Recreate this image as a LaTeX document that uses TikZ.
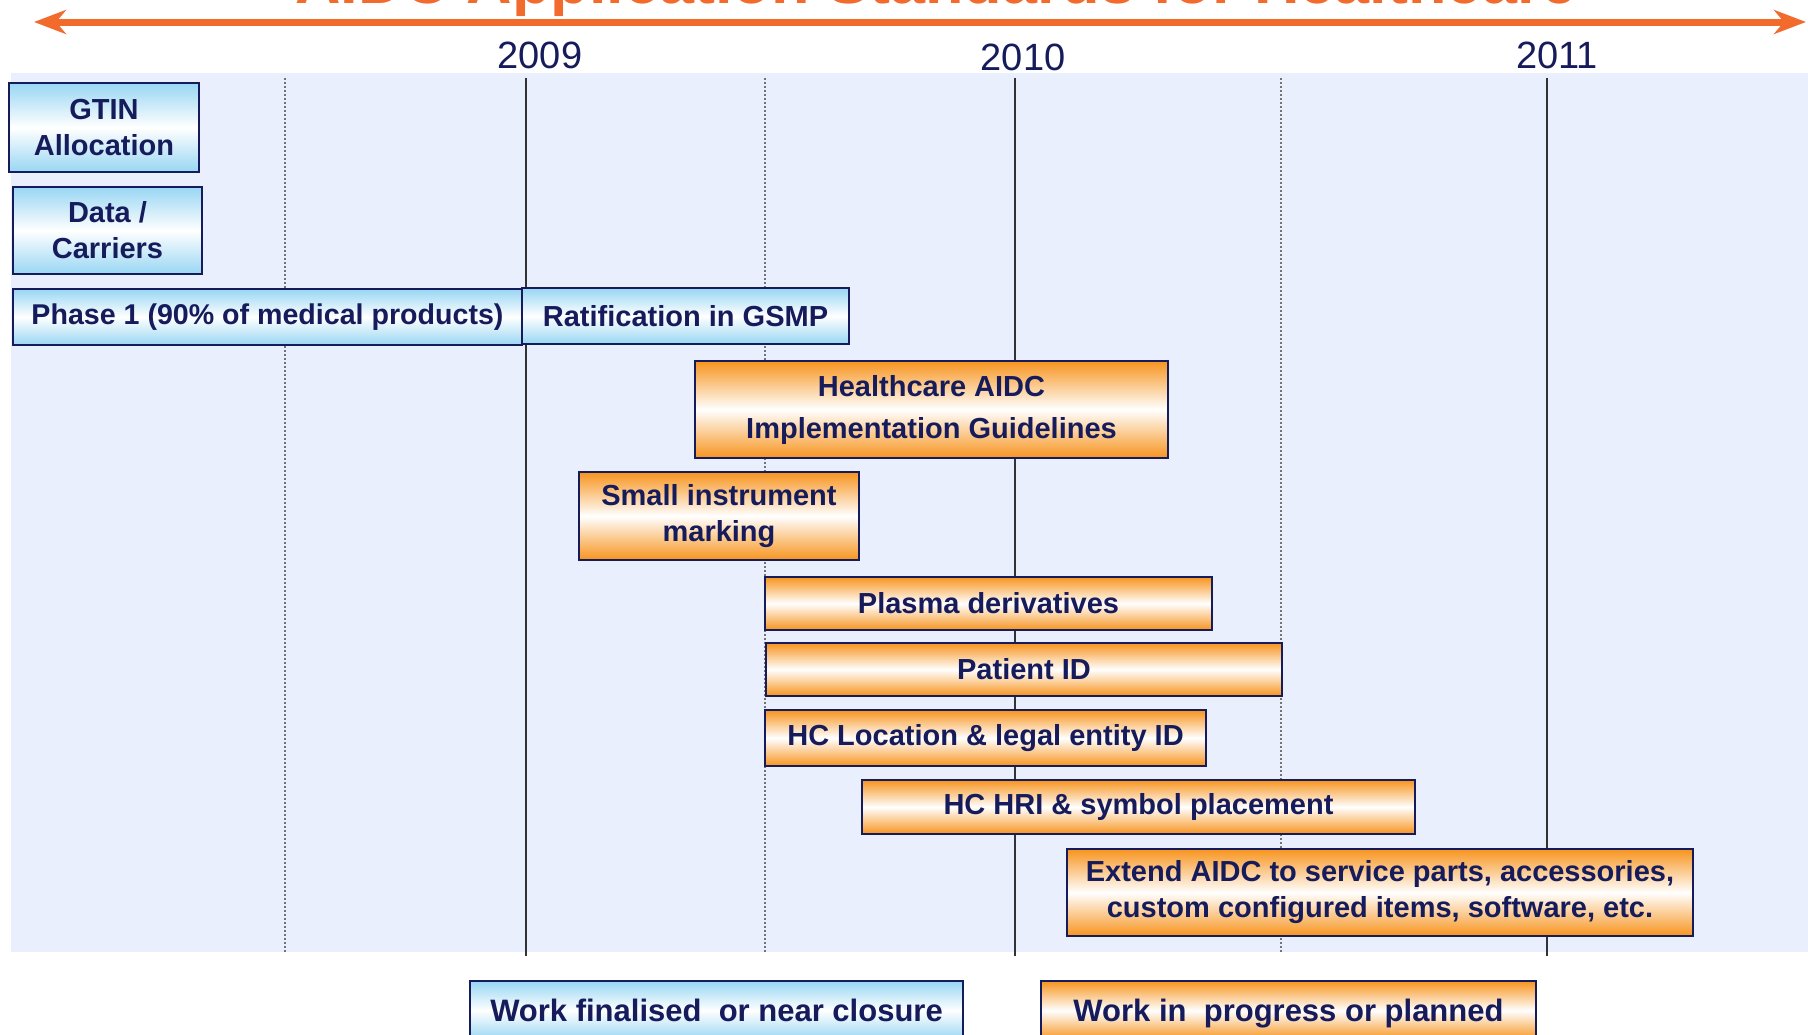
\documentclass[tikz,border=0pt]{standalone}
\usepackage{fontspec}
\setmainfont{Liberation Sans}
\usepackage[HTML]{xcolor}
\usepackage{tikz}
\usetikzlibrary{positioning, arrows, arrows.meta}

\definecolor{navy}{HTML}{161B5C}
\definecolor{titleorange}{HTML}{F26B2D}
\definecolor{boxorange}{HTML}{F7941E}
\definecolor{boxblue}{HTML}{98D6F3}
\definecolor{bgblue}{HTML}{E9EFFC}

\tikzset{
  done/.style={draw=navy, line width=1pt, top color=boxblue, bottom color=boxblue,
    middle color=white, text=navy, align=center, inner sep=0pt,
    font=\bfseries\fontsize{14.5}{18}\selectfont},
  todo/.style={done, top color=boxorange, bottom color=boxorange, middle color=white},
  legend/.style={text height=13pt, text depth=2.5pt, minimum height=29.5pt,
    font=\bfseries\fontsize{15.5}{18}\selectfont},
  yearline/.style={line width=1pt, black!80},
  halfline/.style={line width=1pt, densely dotted, black!55},
  year/.style={text=navy, font=\fontsize{19}{22}\selectfont}
}

\begin{document}
\begin{tikzpicture}[x=0.5pt, y=-0.5pt]
\useasboundingbox (0,0) rectangle (1808,1034);
% background and time axis
\fill[bgblue] (11,73) rectangle (1808,952);
\foreach \x in {285,765,1281}
  \draw[halfline] (\x,78) -- (\x,952);
\foreach \x in {526,1015,1547}
  \draw[yearline] (\x,78) -- (\x,956);

\node[anchor=base, text=titleorange, font=\bfseries\fontsize{31.5}{36}\selectfont] (title)
  at (936,3) {AIDC Application Standards for Healthcare};
\coordinate (arrL) at (34,22);
\coordinate (arrR) at (1806,22);
\draw[titleorange, line width=3.5pt,
  {Stealth[length=16pt, width=12pt, inset=5pt]}-{Stealth[length=16pt, width=12pt, inset=5pt]}]
  (arrL) -- (arrR);

\node[year] (y2009) at (540,55) {2009};
\node[year] (y2010) at (1023,57) {2010};
\node[year] (y2011) at (1557,55) {2011};

% finished work
\node[done, minimum width=95pt, minimum height=44.5pt] (gtin) at (104,127.5) {GTIN\\Allocation};
\node[done, minimum width=94.5pt, minimum height=43.5pt] (carriers) at (107.5,230.5) {Data /\\Carriers};
\node[done, minimum width=254.5pt, minimum height=28pt, font=\bfseries\fontsize{14.3}{18}\selectfont]
  (phase) at (267.5,317) {Phase 1 (90\% of medical products)};
\node[done, minimum width=163.5pt, minimum height=28pt] (ratify) at (685.5,316) {Ratification in GSMP};

% work in progress
\node[todo, minimum width=236.5pt, minimum height=48.5pt, font=\bfseries\fontsize{14.5}{21}\selectfont]
  (guide) at (931.5,409.5) {Healthcare AIDC\\Implementation Guidelines};
\node[todo, minimum width=140pt, minimum height=44pt] (instr) at (719,516) {Small instrument\\marking};
\node[todo, minimum width=223.5pt, minimum height=26.5pt] (plasma) at (988.5,603.5) {Plasma derivatives};
\node[todo, minimum width=258pt, minimum height=26.5pt] (patient) at (1024,669.5) {Patient ID};
\node[todo, minimum width=220.5pt, minimum height=28pt] (location) at (985.5,738) {HC Location \& legal entity ID};
\node[todo, minimum width=276.5pt, minimum height=27pt] (hri) at (1138.5,807) {HC HRI \& symbol placement};
\node[todo, minimum width=313pt, minimum height=43.5pt] (extend) at (1380,892.5)
  {Extend AIDC to service parts, accessories,\\custom configured items, software, etc.};

% legend
\node[done, legend, minimum width=246.5pt] (legdone) at (716.5,1010.5) {Work finalised~ or near closure};
\node[todo, legend, minimum width=247.5pt] (legtodo) at (1288.5,1010.5) {Work in~ progress or planned};
\end{tikzpicture}
\end{document}
